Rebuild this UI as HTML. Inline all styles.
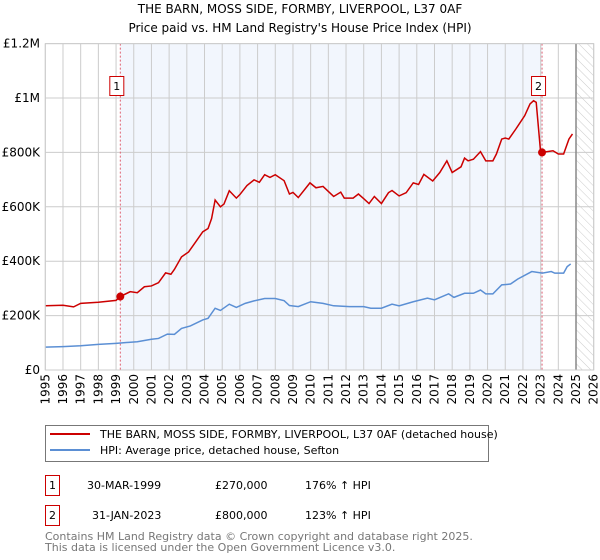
<!DOCTYPE html>
<html><head><meta charset="utf-8"><style>
body{margin:0;background:#fff;}
svg{display:block;font-family:"DejaVu Sans","Liberation Sans",sans-serif;}
</style></head><body>
<svg id="chart" width="600" height="560" viewBox="0 0 600 560" xmlns="http://www.w3.org/2000/svg">
<defs>
<pattern id="hatch" patternUnits="userSpaceOnUse" width="6" height="6" patternTransform="rotate(-45)">
<line x1="0" y1="0" x2="0" y2="6" stroke="#ccc" stroke-width="1"/>
</pattern>
</defs>
<text x="300" y="13" text-anchor="middle" font-size="12">THE BARN, MOSS SIDE, FORMBY, LIVERPOOL, L37 0AF</text>
<text x="300" y="32" text-anchor="middle" font-size="12">Price paid vs. HM Land Registry's House Price Index (HPI)</text>
<g id="plot"></g>
<g>
<rect x="45.5" y="425.5" width="443" height="36" fill="#fff" stroke="#777"/>
<line x1="50" y1="434" x2="90" y2="434" stroke="#cc0000" stroke-width="2"/>
<text x="100" y="438" font-size="11">THE BARN, MOSS SIDE, FORMBY, LIVERPOOL, L37 0AF (detached house)</text>
<line x1="50" y1="450" x2="90" y2="450" stroke="#5b8fd4" stroke-width="2"/>
<text x="100" y="454" font-size="11">HPI: Average price, detached house, Sefton</text>
</g>
<g font-size="11">
<rect x="45.5" y="475.5" width="14" height="20" fill="#fff" stroke="#cc0000"/>
<text x="52.5" y="489" text-anchor="middle">1</text>
<text x="87" y="489">30-MAR-1999</text>
<text x="215" y="489">£270,000</text>
<text x="305" y="489">176% ↑ HPI</text>
</g>
<g font-size="11">
<rect x="45.5" y="505.5" width="14" height="20" fill="#fff" stroke="#cc0000"/>
<text x="52.5" y="519" text-anchor="middle">2</text>
<text x="92" y="519">31-JAN-2023</text>
<text x="215" y="519">£800,000</text>
<text x="305" y="519">123% ↑ HPI</text>
</g>
<text x="45" y="540" font-size="11" fill="#777">Contains HM Land Registry data © Crown copyright and database right 2025.</text>
<text x="45" y="551" font-size="11" fill="#777">This data is licensed under the Open Government Licence v3.0.</text>
</svg>
<script>
const yTicks=[0,200000,400000,600000,800000,1000000,1200000];
const yTickLabels=["£0","£200K","£400K","£600K","£800K","£1M","£1.2M"];
const xYears=[1995,1996,1997,1998,1999,2000,2001,2002,2003,2004,2005,2006,2007,2008,2009,2010,2011,2012,2013,2014,2015,2016,2017,2018,2019,2020,2021,2022,2023,2024,2025,2026];
const priceYears=[1995,1996,1996.6,1997,1998,1999,1999.24,1999.8,2000.2,2000.6,2001,2001.4,2001.8,2002.1,2002.3,2002.7,2003.1,2003.5,2003.9,2004.2,2004.4,2004.6,2004.9,2005.1,2005.4,2005.8,2006,2006.4,2006.8,2007.1,2007.4,2007.7,2008,2008.5,2008.8,2009,2009.3,2009.96,2010.3,2010.7,2011.3,2011.7,2011.9,2012.4,2012.7,2013,2013.3,2013.6,2014,2014.4,2014.6,2015,2015.4,2015.8,2016.1,2016.4,2016.9,2017.3,2017.7,2018,2018.5,2018.7,2018.9,2019.2,2019.6,2019.9,2020.3,2020.5,2020.8,2021,2021.2,2021.6,2022.1,2022.4,2022.6,2022.75,2023.0,2023.08,2023.7,2024,2024.3,2024.6,2024.8];
const priceValues=[236000,238000,232000,245000,249000,256000,270000,288000,284000,306000,309000,321000,357000,352000,370000,416000,434000,471000,508000,520000,557000,625000,600000,610000,659000,632000,645000,678000,699000,690000,718000,708000,718000,696000,647000,653000,634000,688000,670000,675000,638000,654000,632000,632000,647000,630000,612000,638000,612000,652000,660000,640000,652000,688000,682000,719000,695000,726000,769000,726000,747000,779000,769000,775000,803000,769000,769000,794000,849000,853000,849000,886000,935000,978000,990000,984000,800000,800000,806000,794000,794000,849000,868000];
const hpiYears=[1995,1996,1997,1998,1999,2000.2,2001,2001.4,2001.9,2002.3,2002.7,2003.2,2003.9,2004.2,2004.6,2004.9,2005.4,2005.8,2006.3,2006.8,2007.4,2008,2008.5,2008.8,2009.3,2010,2010.7,2011.3,2012.2,2013,2013.4,2014,2014.6,2015,2015.8,2016.6,2017,2017.8,2018.1,2018.7,2019.2,2019.6,2019.9,2020.3,2020.8,2021.3,2021.7,2022.5,2023.1,2023.6,2023.8,2024.3,2024.5,2024.7];
const hpiValues=[84000,86000,89000,94000,98000,104000,113000,116000,132000,131000,153000,162000,184000,190000,227000,219000,242000,230000,245000,254000,263000,263000,255000,237000,233000,251000,245000,236000,233000,233000,227000,227000,242000,236000,251000,264000,258000,280000,267000,282000,282000,294000,280000,280000,313000,316000,334000,362000,356000,362000,356000,356000,380000,390000];
const saleYears=[1999.24,2023.08];
const salePrices=[270000,800000];
const saleLabels=["1","2"];

const NS="http://www.w3.org/2000/svg";
const L=45.3,R=593.7,T=43.6,B=370,Y0=1995,Y1=2026,VMAX=1200000;
const xs=y=>L+(y-Y0)/(Y1-Y0)*(R-L);
const ys=v=>B-v/VMAX*(B-T);
const g=document.getElementById('plot');
function mk(tag,attrs,parent){const e=document.createElementNS(NS,tag);for(const k in attrs)e.setAttribute(k,attrs[k]);(parent||g).appendChild(e);return e;}

const shade=mk('rect',{x:xs(saleYears[0]),y:T,width:xs(saleYears[1])-xs(saleYears[0]),height:B-T,fill:'#f2f6fd'});


const hatch=mk('rect',{x:xs(2025),y:T,width:R-xs(2025),height:B-T,fill:'url(#hatch)'});



xYears.forEach(yr=>{
  const ln=mk('line',{x1:xs(yr),x2:xs(yr),y1:T,y2:B,stroke:'#ccc','stroke-width':1});
  
  
  const t=mk('text',{transform:'translate('+(xs(yr)+4)+',374) rotate(-90)','text-anchor':'end','font-size':12});
  
  
  t.textContent=yr;
});
yTicks.forEach((v,i)=>{
  const ln=mk('line',{x1:L,x2:R,y1:ys(v),y2:ys(v),stroke:'#ccc','stroke-width':1});
  
  
  const t=mk('text',{x:40,y:ys(v)+4,'text-anchor':'end','font-size':12});
  
  
  t.textContent=yTickLabels[i];
});
const nowLine=mk('line',{x1:xs(2025),x2:xs(2025),y1:T,y2:B,stroke:'#888','stroke-width':1.5});



saleYears.forEach((yr,i)=>{
  const ln=mk('line',{x1:xs(yr),x2:xs(yr),y1:T,y2:B,stroke:'#e06070','stroke-width':1,'stroke-dasharray':'2,2'});
  
  
});

const hp=mk('polyline',{points:hpiYears.map((y,i)=>xs(y)+','+ys(hpiValues[i])).join(' '),fill:'none',stroke:'#5b8fd4','stroke-width':1.5});


const pp=mk('polyline',{points:priceYears.map((y,i)=>xs(y)+','+ys(priceValues[i])).join(' '),fill:'none',stroke:'#cc0000','stroke-width':1.5});



saleYears.forEach((yr,i)=>{
  const c=mk('circle',{cx:xs(yr),cy:ys(salePrices[i]),r:4,fill:'#cc0000'});
  
  
  const bx=mk('rect',{x:xs(yr)-10.5,y:76.5,width:14,height:19,fill:'#fff',stroke:'#cc0000'});
  
  
  const t=mk('text',{x:xs(yr)-3.5,y:90,'text-anchor':'middle','font-size':11});
  
  
  t.textContent=saleLabels[i];
});
const frame=mk('rect',{x:L,y:T,width:R-L,height:B-T,fill:'none',stroke:'#ccc'});


</script>
</body></html>
